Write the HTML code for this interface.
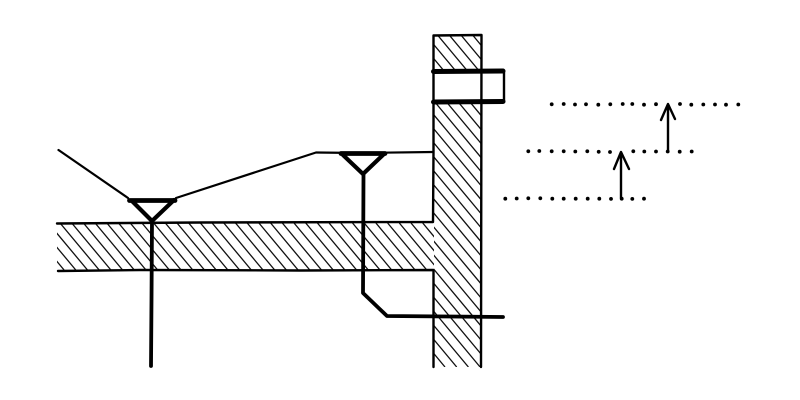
<!DOCTYPE html>
<html><head><meta charset="utf-8"><style>html,body{margin:0;padding:0;background:#fff}svg{display:block}</style></head>
<body>
<svg width="800" height="400" viewBox="0 0 800 400" xmlns="http://www.w3.org/2000/svg">
<defs>
<clipPath id="cs"><rect x="57" y="223" width="377" height="47"/></clipPath>
<clipPath id="cw"><path d="M434 36H481V71H434ZM434 102H481V367H434Z"/></clipPath>
</defs>
<rect width="800" height="400" fill="#fff"/>
<path clip-path="url(#cs)" fill="none" stroke="#111" stroke-width="1.300" d="M13.2 223l39.2 47M24.9 223l39.2 47M36.6 223l39.2 47M48.3 223l39.2 47M60 223l39.2 47M71.7 223l39.2 47M83.4 223l39.2 47M95.1 223l39.2 47M106.8 223l39.2 47M118.5 223l39.2 47M130.2 223l39.2 47M141.9 223l39.2 47M153.6 223l39.2 47M165.3 223l39.2 47M177 223l39.2 47M188.7 223l39.2 47M200.4 223l39.2 47M212.1 223l39.2 47M223.8 223l39.2 47M235.5 223l39.2 47M247.2 223l39.2 47M258.9 223l39.2 47M270.6 223l39.2 47M282.3 223l39.2 47M294 223l39.2 47M305.7 223l39.2 47M317.4 223l39.2 47M329.1 223l39.2 47M340.8 223l39.2 47M352.5 223l39.2 47M364.2 223l39.2 47M375.9 223l39.2 47M387.6 223l39.2 47M399.3 223l39.2 47M411 223l39.2 47M422.7 223l39.2 47"/>
<path clip-path="url(#cw)" fill="none" stroke="#111" stroke-width="1.300" d="M156.7 35l276.6 332M168.4 35l276.6 332M180.1 35l276.6 332M191.8 35l276.6 332M203.5 35l276.6 332M215.2 35l276.6 332M226.9 35l276.6 332M238.6 35l276.6 332M250.3 35l276.6 332M262 35l276.6 332M273.7 35l276.6 332M285.4 35l276.6 332M297.1 35l276.6 332M308.8 35l276.6 332M320.5 35l276.6 332M332.2 35l276.6 332M343.9 35l276.6 332M355.6 35l276.6 332M367.3 35l276.6 332M379 35l276.6 332M390.7 35l276.6 332M402.4 35l276.6 332M414.1 35l276.6 332M425.8 35l276.6 332M437.5 35l276.6 332M449.2 35l276.6 332M460.9 35l276.6 332M472.6 35l276.6 332"/>
<g fill="none" stroke="#000" stroke-linecap="round" stroke-linejoin="round">
<path d="M57 223.500L200 222.500L433 222L433.500 152L433.500 35.500L481.500 35L481 367M433.500 367L433.500 270L300 270.500L140 270L58 271" stroke-width="2.400"/>
<path d="M58.500 150L128 198M176 198L316 152.500L360 153L433 152" stroke-width="2.200"/>
<path d="M434 71H504V102H434" stroke-width="2.400"/>
<path d="M433.500 71.500L503 71M433.500 102L503 101.500" stroke-width="5"/>
<path d="M129.500 200.500H175M341 153.500H385" stroke-width="4.800"/>
<path d="M132 201L152 221L174 200M343 155L363 174L384 154" stroke-width="4.200"/>
<path d="M152 220L151.500 300L151 366M363.500 174L363 293L387 316L450 316.500L503 317" stroke-width="3.800"/>
<path d="M668 151V105M661 120L668 104L675 119M621 198V153M614 169L621 152L629 169" stroke-width="2.400"/>
</g>
<g fill="#000">
<circle cx="551.700" cy="104.300" r="1.900"/><circle cx="563.700" cy="104" r="1.900"/><circle cx="575" cy="104.500" r="1.900"/><circle cx="586" cy="104.300" r="1.900"/><circle cx="598.300" cy="104.700" r="1.900"/><circle cx="610.300" cy="104.300" r="1.900"/><circle cx="622.700" cy="104" r="1.900"/><circle cx="632.300" cy="104" r="1.900"/><circle cx="644" cy="104.700" r="1.900"/><circle cx="656" cy="104.200" r="1.900"/><circle cx="680" cy="104" r="1.900"/><circle cx="691.300" cy="104.700" r="1.900"/><circle cx="703.300" cy="104.500" r="1.900"/><circle cx="715" cy="104.500" r="1.900"/><circle cx="726" cy="104.700" r="1.900"/><circle cx="738.300" cy="104.500" r="1.900"/>
<circle cx="528.300" cy="151.300" r="1.900"/><circle cx="539.300" cy="151" r="1.900"/><circle cx="551.700" cy="151.300" r="1.900"/><circle cx="563.700" cy="151.300" r="1.900"/><circle cx="575.300" cy="151.500" r="1.900"/><circle cx="587.300" cy="151.300" r="1.900"/><circle cx="598.700" cy="151.800" r="1.900"/><circle cx="610" cy="152" r="1.900"/><circle cx="633.300" cy="151.300" r="1.900"/><circle cx="644.300" cy="151.500" r="1.900"/><circle cx="656" cy="151.500" r="1.900"/><circle cx="667.700" cy="151.500" r="1.900"/><circle cx="679.700" cy="151.700" r="1.900"/><circle cx="691.700" cy="151.500" r="1.900"/>
<circle cx="505.300" cy="198.700" r="1.900"/><circle cx="516.700" cy="198.500" r="1.900"/><circle cx="528.300" cy="198.300" r="1.900"/><circle cx="540.300" cy="198.300" r="1.900"/><circle cx="552.300" cy="198.700" r="1.900"/><circle cx="563.700" cy="198.700" r="1.900"/><circle cx="575.700" cy="198.700" r="1.900"/><circle cx="587.700" cy="198.700" r="1.900"/><circle cx="599.300" cy="198.700" r="1.900"/><circle cx="611" cy="198.900" r="1.900"/><circle cx="621.700" cy="198.700" r="1.900"/><circle cx="632.300" cy="198.900" r="1.900"/><circle cx="644" cy="198.700" r="1.900"/>
</g>
</svg>
</body></html>
